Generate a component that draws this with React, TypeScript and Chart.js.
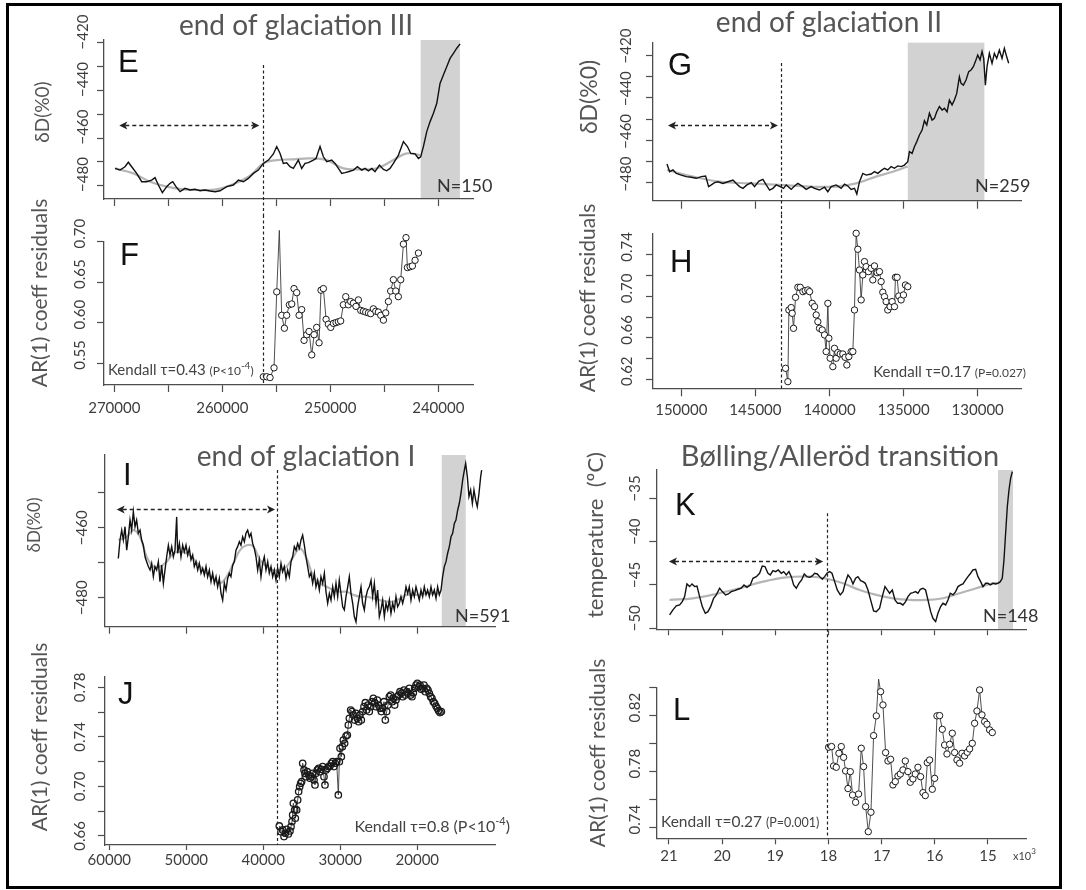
import React, { useEffect, useRef } from 'react';
import { Chart, registerables } from 'chart.js';

Chart.register(...registerables);

// ===================== DATA =====================
// Panel E — end of glaciation III, deltaD record (age in years BP)
const eAge = [269930, 269470, 269010, 268700, 268390, 267930, 267460, 267000, 266540, 266230, 265920, 265550, 265150, 264840, 264590, 264290, 263910, 263450, 262990, 262530, 262060, 261600, 261140, 260670, 260210, 259590, 258980, 258510, 258050, 257590, 257120, 256660, 256200, 255730, 255270, 254960, 254650, 254350, 254040, 253730, 253420, 252960, 252650, 252340, 252030, 251570, 251320, 250950, 250640, 250330, 249870, 249560, 249250, 248940, 248630, 248330, 247860, 247490, 247090, 246780, 246470, 246160, 245860, 245450, 245080, 244780, 244470, 244160, 243690, 243230, 242860, 242550, 242150, 241840, 241630, 241380, 241070, 240760, 240450, 240140, 239840, 239530, 239220, 238910, 238600, 238290, 237980];
const eDeltaD = [-472.8, -473.5, -472.1, -470.2, -472.1, -474.9, -478.4, -478.4, -477.7, -476.7, -479.8, -483.0, -480.5, -479.1, -478.4, -480.5, -482.6, -481.2, -481.9, -481.6, -482.2, -481.9, -482.3, -482.6, -482.2, -480.5, -479.8, -477.7, -478.4, -477.0, -474.9, -473.5, -470.7, -469.3, -466.7, -463.6, -466.5, -470.7, -470.4, -472.1, -472.8, -469.3, -472.8, -470.7, -470.4, -469.3, -468.6, -463.6, -467.9, -470.0, -469.3, -470.7, -472.8, -474.9, -474.6, -474.2, -473.5, -472.1, -473.5, -472.8, -473.8, -472.8, -474.2, -471.4, -473.2, -473.8, -472.8, -470.7, -467.2, -461.5, -463.6, -466.5, -466.7, -468.6, -467.9, -463.6, -457.3, -453.1, -449.6, -445.4, -437.0, -433.5, -430.0, -426.5, -424.4, -422.2, -420.4];
const eSmoothAge = [269930, 268240, 266690, 265150, 263610, 262060, 260520, 258980, 257430, 256200, 254960, 253420, 251880, 250330, 248790, 247240, 245700, 244160, 242920, 241690];
const eSmooth = [-472.8, -474.9, -478.4, -480.5, -481.6, -481.9, -481.6, -479.4, -475.9, -470.7, -469.3, -469.0, -468.6, -469.3, -472.8, -473.2, -472.8, -469.3, -466.5, -467.2];

// Panel F — AR(1) coefficient of residuals
const fAge = [256200, 255890, 255580, 255210, 254960, 254720, 254500, 254250, 254040, 253790, 253570, 253360, 253110, 252890, 252650, 252430, 252180, 251970, 251720, 251500, 251260, 251040, 250860, 250640, 250390, 250180, 249960, 249710, 249470, 249250, 249040, 248790, 248570, 248330, 248110, 247860, 247620, 247400, 247180, 246940, 246720, 246470, 246260, 246010, 245790, 245550, 245330, 245080, 244870, 244620, 244410, 244160, 243940, 243700, 243480, 243230, 242990, 242860, 242610, 242400, 242150, 241840];
const fAR = [0.533, 0.533, 0.532, 0.544, 0.638, 0.714, 0.609, 0.593, 0.609, 0.622, 0.623, 0.642, 0.637, 0.609, 0.616, 0.578, 0.585, 0.589, 0.560, 0.585, 0.594, 0.575, 0.640, 0.642, 0.604, 0.598, 0.594, 0.599, 0.600, 0.601, 0.602, 0.622, 0.632, 0.622, 0.626, 0.624, 0.620, 0.628, 0.615, 0.614, 0.613, 0.612, 0.611, 0.617, 0.614, 0.613, 0.609, 0.603, 0.612, 0.626, 0.639, 0.653, 0.639, 0.632, 0.653, 0.697, 0.705, 0.668, 0.669, 0.670, 0.677, 0.686];

// Panel G — end of glaciation II
const gAge = [150964, 150784, 150560, 150335, 149998, 149661, 149324, 148987, 148650, 148358, 148155, 147976, 147751, 147526, 147189, 146852, 146515, 146290, 146066, 145841, 145571, 145279, 145055, 144763, 144493, 144268, 144043, 143819, 143594, 143324, 143099, 142920, 142583, 142358, 142134, 141796, 141572, 141235, 141010, 140673, 140336, 140111, 139887, 139549, 139212, 138988, 138763, 138538, 138314, 138156, 137977, 137752, 137527, 137190, 136966, 136741, 136516, 136291, 136067, 135842, 135617, 135392, 135168, 134943, 134718, 134606, 134426, 134269, 134111, 133932, 133752, 133595, 133438, 133258, 133078, 132921, 132764, 132584, 132404, 132247, 132067, 131910, 131731, 131573, 131416, 131236, 131124, 130967, 130787, 130607, 130450, 130293, 130158, 130000, 129842, 129708, 129595, 129483, 129371, 129213, 129034, 128876, 128719, 128539, 128359, 128202, 128045, 127910];
const gDeltaD = [-471.1, -474.7, -473.9, -475.5, -476.3, -477.0, -477.3, -477.8, -477.0, -476.7, -481.7, -480.9, -479.8, -479.4, -480.2, -479.4, -478.6, -480.2, -481.7, -482.5, -480.9, -479.8, -481.7, -479.1, -478.3, -480.9, -483.3, -482.5, -480.9, -481.7, -482.5, -480.9, -483.0, -481.4, -480.2, -481.7, -483.0, -481.7, -482.5, -483.3, -482.0, -484.1, -481.7, -480.9, -482.5, -480.5, -481.4, -483.0, -482.5, -485.2, -479.4, -475.5, -476.3, -475.8, -474.7, -475.5, -474.2, -473.1, -473.9, -472.3, -473.1, -472.0, -472.3, -471.6, -470.0, -465.3, -466.1, -463.0, -460.6, -457.5, -455.2, -450.8, -452.8, -447.3, -450.5, -449.7, -446.6, -444.2, -445.8, -445.0, -446.6, -441.1, -443.4, -441.1, -438.0, -430.2, -433.3, -434.1, -431.7, -427.8, -427.0, -425.5, -423.1, -420.0, -422.3, -418.4, -421.6, -434.1, -425.5, -419.2, -423.9, -419.2, -421.6, -417.7, -421.6, -416.9, -420.8, -423.9];
const gSmoothAge = [150964, 149212, 147414, 145391, 143369, 141347, 139549, 138201, 136853, 135729, 134718];
const gSmooth = [-473.9, -477.0, -479.4, -480.2, -480.9, -481.7, -481.7, -480.2, -477.0, -474.7, -472.3];

// Panel H — AR(1) coefficient of residuals
const hAge = [142965, 142808, 142740, 142583, 142516, 142426, 142291, 142134, 141976, 141796, 141639, 141459, 141347, 141167, 141010, 140897, 140785, 140673, 140493, 140336, 140224, 140111, 140044, 139954, 139774, 139662, 139549, 139437, 139280, 139100, 138943, 138830, 138695, 138538, 138426, 138314, 138201, 138089, 137977, 137864, 137752, 137640, 137527, 137370, 137190, 137078, 136966, 136786, 136629, 136516, 136403, 136291, 136179, 136067, 135909, 135774, 135617, 135550, 135437, 135325, 135168, 135010, 134875, 134718];
const hAR = [0.6306, 0.6177, 0.6869, 0.6892, 0.6837, 0.6692, 0.6991, 0.7088, 0.7088, 0.7046, 0.7056, 0.7062, 0.7046, 0.6933, 0.6901, 0.6821, 0.6756, 0.6692, 0.6676, 0.6628, 0.6467, 0.6933, 0.6596, 0.6403, 0.6322, 0.6499, 0.6403, 0.6457, 0.6444, 0.6444, 0.6412, 0.6338, 0.6419, 0.6467, 0.6467, 0.6869, 0.7609, 0.7455, 0.7255, 0.6966, 0.7207, 0.7336, 0.7287, 0.7239, 0.7271, 0.7159, 0.7294, 0.7229, 0.7239, 0.7143, 0.7040, 0.6998, 0.6950, 0.6869, 0.6901, 0.6950, 0.6901, 0.7184, 0.7184, 0.7004, 0.6966, 0.7014, 0.7110, 0.7094];

// Panel I — end of glaciation I
const iAge = [58830, 58610, 58390, 58180, 57960, 57740, 57530, 57310, 57100, 56880, 56660, 56450, 56230, 56010, 55800, 55580, 55360, 55150, 54930, 54710, 54500, 54280, 54070, 53850, 53630, 53420, 53200, 52980, 52770, 52550, 52330, 52120, 51900, 51680, 51470, 51250, 51120, 50900, 50690, 50470, 50260, 50040, 49820, 49610, 49390, 49170, 48960, 48740, 48520, 48310, 48090, 47870, 47660, 47440, 47230, 47010, 46790, 46580, 46360, 46140, 45930, 45710, 45490, 45280, 45060, 44840, 44630, 44410, 44200, 43980, 43760, 43550, 43330, 43110, 42900, 42680, 42460, 42250, 42030, 41810, 41600, 41380, 41170, 40950, 40730, 40520, 40300, 40080, 39870, 39650, 39430, 39220, 39000, 38780, 38570, 38350, 38140, 37920, 37700, 37490, 37270, 37050, 36840, 36620, 36400, 36190, 35970, 35750, 35540, 35320, 35100, 34890, 34670, 34460, 34240, 34020, 33810, 33590, 33370, 33160, 32940, 32720, 32510, 32290, 32070, 31860, 31640, 31420, 31210, 30990, 30780, 30560, 30340, 30130, 29910, 29690, 29480, 29260, 29040, 28830, 28610, 28390, 28180, 27960, 27750, 27530, 27310, 27100, 26880, 26660, 26450, 26230, 26010, 25800, 25580, 25360, 25150, 24930, 24720, 24500, 24280, 24070, 23850, 23630, 23420, 23200, 22980, 22770, 22550, 22330, 22120, 21900, 21690, 21470, 21250, 21040, 20820, 20600, 20390, 20170, 19950, 19740, 19520, 19300, 19090, 18870, 18660, 18440, 18220, 18010, 17790, 17570, 17360, 17140, 16920, 16710, 16490, 16270, 16060, 15840, 15620, 15410, 15190, 14980, 14760, 14540, 14330, 14110, 13890, 13720, 13500, 13290, 13070, 12850, 12640, 12420, 12210, 11990, 11770, 11640];
const iDeltaD = [-468.8, -463.5, -460.7, -463.5, -459.7, -466.4, -462.6, -457.8, -460.7, -455.4, -459.7, -457.8, -461.6, -460.7, -463.5, -465.0, -468.3, -469.7, -471.1, -472.1, -470.2, -474.0, -471.1, -472.1, -469.7, -475.4, -470.7, -475.9, -472.1, -468.3, -465.0, -467.8, -465.4, -468.3, -466.4, -456.9, -467.3, -464.5, -468.3, -465.0, -466.9, -465.0, -467.8, -465.9, -469.2, -467.8, -471.1, -469.7, -472.1, -470.2, -473.0, -471.6, -473.5, -471.1, -474.0, -472.1, -475.4, -473.0, -475.9, -474.0, -476.9, -474.5, -478.8, -480.7, -475.9, -477.8, -474.5, -473.0, -474.0, -470.7, -469.7, -466.4, -465.4, -464.0, -465.0, -462.6, -464.0, -461.6, -460.7, -462.6, -461.6, -464.5, -465.9, -468.3, -472.1, -469.2, -474.0, -470.2, -468.3, -472.1, -469.7, -473.0, -471.1, -474.0, -472.1, -475.0, -471.6, -474.0, -470.2, -472.6, -471.1, -474.5, -472.1, -474.0, -469.7, -468.3, -465.4, -466.4, -464.5, -465.9, -463.5, -462.1, -465.0, -468.3, -471.1, -474.0, -473.0, -475.9, -473.0, -476.9, -475.0, -477.8, -474.0, -475.9, -473.0, -478.3, -481.6, -478.8, -480.7, -476.9, -479.7, -475.9, -479.7, -475.0, -478.8, -482.6, -483.5, -479.7, -476.9, -474.0, -478.8, -481.6, -485.4, -486.9, -482.6, -479.7, -476.9, -481.6, -483.5, -479.7, -477.8, -476.9, -475.0, -479.7, -475.9, -481.6, -477.8, -485.4, -483.5, -480.7, -485.4, -481.6, -483.5, -480.7, -484.5, -481.6, -483.5, -479.7, -482.6, -481.6, -479.7, -481.6, -479.7, -476.9, -478.8, -476.9, -480.7, -477.8, -479.7, -476.9, -478.8, -480.7, -477.8, -479.7, -476.9, -479.2, -477.8, -479.7, -476.9, -479.2, -477.8, -480.2, -476.9, -479.2, -477.8, -474.0, -471.1, -469.7, -467.3, -465.4, -462.6, -461.6, -458.8, -457.8, -455.0, -453.0, -450.2, -446.4, -443.5, -441.6, -445.4, -451.1, -449.2, -453.0, -449.2, -452.1, -454.0, -450.2, -445.4, -443.5];
const iSmoothAge = [58827, 57745, 56879, 56013, 55147, 54282, 53416, 52550, 51684, 50818, 49953, 49087, 48221, 47355, 46489, 45624, 44758, 43892, 43026, 42160, 41295, 40429, 39563, 38697, 37831, 36966, 36100, 35234, 34368, 33502, 32637, 31771, 30905, 30039, 29173, 28308, 27442, 26576, 25710, 24844, 23978, 23113, 22247, 21381, 20515, 19649, 18783, 17918, 17052];
const iSmooth = [-463.5, -462.6, -460.7, -462.6, -468.3, -471.1, -471.1, -469.7, -467.3, -466.9, -467.3, -468.8, -471.1, -473.0, -474.5, -475.9, -474.0, -470.2, -466.4, -465.0, -465.4, -469.2, -471.1, -472.1, -472.1, -471.1, -468.3, -465.9, -468.8, -474.0, -475.9, -476.9, -477.8, -478.3, -478.3, -479.2, -479.7, -479.7, -480.2, -480.7, -481.1, -481.1, -480.2, -479.2, -479.2, -479.2, -478.8, -478.8, -478.8];

// Panel J — AR(1) coefficient of residuals
const jAge = [37918, 37702, 37485, 37312, 37139, 36966, 36749, 36533, 36403, 36273, 36187, 36100, 35927, 35840, 35667, 35537, 35407, 35277, 35147, 35017, 34888, 34714, 34585, 34455, 34282, 34109, 33935, 33762, 33589, 33416, 33286, 33157, 32983, 32810, 32637, 32464, 32291, 32118, 31988, 31858, 31685, 31512, 31338, 31165, 30992, 30819, 30646, 30472, 30256, 30126, 30040, 29867, 29737, 29607, 29434, 29261, 29088, 28958, 28828, 28655, 28482, 28308, 28135, 27962, 27789, 27616, 27442, 27269, 27096, 26923, 26750, 26576, 26403, 26230, 26057, 25884, 25710, 25537, 25364, 25191, 25018, 24844, 24671, 24498, 24325, 24152, 23978, 23805, 23632, 23459, 23286, 23113, 22939, 22766, 22593, 22420, 22247, 22073, 21900, 21727, 21554, 21381, 21208, 21034, 20861, 20688, 20515, 20342, 20169, 19995, 19822, 19649, 19476, 19303, 19130, 18956, 18783, 18610, 18437, 18264, 18091, 17918, 17744, 17571, 17398, 17225, 17052, 16879];
const jAR = [0.6681, 0.6635, 0.6649, 0.6595, 0.6622, 0.6654, 0.6616, 0.6640, 0.6675, 0.6716, 0.6770, 0.6864, 0.6810, 0.6743, 0.6810, 0.6891, 0.6958, 0.6998, 0.7025, 0.7039, 0.7187, 0.7133, 0.7106, 0.7079, 0.7119, 0.7092, 0.7066, 0.7079, 0.7106, 0.7052, 0.7012, 0.7106, 0.7133, 0.7146, 0.7119, 0.7138, 0.7160, 0.7079, 0.7012, 0.7133, 0.7146, 0.7160, 0.7165, 0.7187, 0.7200, 0.7160, 0.7187, 0.7200, 0.6931, 0.7200, 0.7308, 0.7240, 0.7321, 0.7375, 0.7348, 0.7407, 0.7415, 0.7496, 0.7550, 0.7617, 0.7604, 0.7577, 0.7536, 0.7590, 0.7550, 0.7523, 0.7577, 0.7536, 0.7604, 0.7644, 0.7676, 0.7617, 0.7657, 0.7604, 0.7644, 0.7684, 0.7711, 0.7676, 0.7644, 0.7698, 0.7657, 0.7631, 0.7604, 0.7631, 0.7684, 0.7536, 0.7604, 0.7657, 0.7725, 0.7738, 0.7684, 0.7711, 0.7657, 0.7698, 0.7725, 0.7738, 0.7765, 0.7752, 0.7725, 0.7778, 0.7738, 0.7765, 0.7752, 0.7792, 0.7738, 0.7725, 0.7757, 0.7792, 0.7819, 0.7832, 0.7805, 0.7819, 0.7784, 0.7792, 0.7819, 0.7765, 0.7792, 0.7778, 0.7752, 0.7725, 0.7711, 0.7684, 0.7671, 0.7649, 0.7631, 0.7612, 0.7596, 0.7604];

// Panel K — Bølling/Allerød transition, temperature (kyr BP)
const kAge = [20.988, 20.925, 20.862, 20.799, 20.749, 20.705, 20.662, 20.611, 20.567, 20.517, 20.473, 20.423, 20.373, 20.317, 20.267, 20.216, 20.160, 20.110, 20.047, 19.997, 19.934, 19.884, 19.828, 19.765, 19.702, 19.640, 19.589, 19.533, 19.470, 19.420, 19.357, 19.295, 19.245, 19.194, 19.138, 19.094, 19.044, 18.994, 18.944, 18.887, 18.843, 18.793, 18.743, 18.699, 18.655, 18.605, 18.555, 18.505, 18.455, 18.404, 18.354, 18.304, 18.260, 18.210, 18.166, 18.116, 18.072, 18.028, 17.978, 17.934, 17.884, 17.834, 17.778, 17.727, 17.677, 17.633, 17.583, 17.539, 17.489, 17.445, 17.395, 17.351, 17.307, 17.257, 17.207, 17.151, 17.100, 17.038, 16.988, 16.937, 16.894, 16.850, 16.799, 16.749, 16.699, 16.649, 16.599, 16.549, 16.505, 16.455, 16.411, 16.361, 16.317, 16.273, 16.223, 16.173, 16.129, 16.078, 16.035, 15.984, 15.941, 15.890, 15.846, 15.796, 15.752, 15.709, 15.658, 15.608, 15.564, 15.514, 15.470, 15.420, 15.376, 15.326, 15.282, 15.232, 15.188, 15.138, 15.094, 15.044, 15.000, 14.956, 14.906, 14.856, 14.812, 14.768, 14.731, 14.699, 14.668, 14.636, 14.605, 14.574, 14.542];
const kTemp = [-48.46, -47.88, -47.42, -47.31, -46.92, -46.35, -44.88, -45.19, -44.88, -45.19, -45.12, -46.35, -47.50, -48.27, -48.08, -47.50, -46.54, -46.15, -45.38, -45.77, -46.15, -46.04, -45.77, -45.65, -45.50, -45.38, -45.00, -45.27, -45.00, -44.23, -44.04, -43.65, -42.81, -42.88, -43.65, -43.85, -43.35, -43.46, -43.27, -43.65, -43.46, -43.85, -43.46, -44.04, -45.00, -45.38, -44.81, -44.42, -43.73, -44.04, -44.12, -43.96, -43.65, -43.73, -44.04, -44.35, -44.04, -43.65, -43.46, -43.65, -44.62, -45.58, -46.15, -45.77, -44.62, -43.85, -44.23, -44.88, -44.23, -44.04, -44.50, -44.62, -44.81, -45.58, -46.73, -48.00, -48.08, -47.69, -46.35, -45.19, -45.58, -45.96, -45.58, -46.73, -47.12, -47.12, -47.31, -46.92, -46.35, -45.96, -45.88, -45.77, -45.96, -45.50, -45.38, -45.58, -46.73, -48.08, -48.85, -49.23, -48.27, -47.50, -47.12, -47.31, -46.73, -45.96, -46.15, -45.77, -45.19, -45.00, -44.88, -44.42, -44.04, -43.65, -43.27, -43.19, -44.04, -44.62, -45.19, -44.81, -44.81, -45.00, -44.81, -44.88, -44.81, -44.62, -44.23, -42.12, -39.04, -35.96, -34.04, -32.69, -31.92];
const kSmoothAge = [20.988, 20.549, 20.110, 19.671, 19.232, 18.793, 18.354, 18.041, 17.727, 17.414, 17.100, 16.787, 16.473, 16.160, 15.846, 15.533, 15.219, 14.906, 14.781];
const kSmooth = [-46.73, -46.54, -46.04, -45.38, -44.62, -44.12, -44.04, -44.27, -44.81, -45.58, -46.15, -46.54, -46.73, -46.73, -46.54, -45.96, -45.38, -44.81, -44.73];

// Panel L — AR(1) coefficient of residuals
const lAge = [17.997, 17.941, 17.903, 17.853, 17.803, 17.759, 17.715, 17.677, 17.633, 17.589, 17.546, 17.489, 17.433, 17.383, 17.339, 17.301, 17.251, 17.201, 17.151, 17.100, 17.057, 17.019, 16.975, 16.925, 16.881, 16.831, 16.787, 16.743, 16.693, 16.649, 16.599, 16.555, 16.505, 16.461, 16.411, 16.367, 16.317, 16.267, 16.223, 16.179, 16.141, 16.097, 16.047, 16.003, 15.959, 15.909, 15.859, 15.815, 15.771, 15.721, 15.671, 15.627, 15.583, 15.533, 15.489, 15.439, 15.389, 15.345, 15.295, 15.251, 15.207, 15.157, 15.113, 15.063, 15.019, 14.969, 14.919];
const lAR = [0.7974, 0.7979, 0.7840, 0.7831, 0.7931, 0.7979, 0.7902, 0.7805, 0.7679, 0.7800, 0.7633, 0.7581, 0.7640, 0.7967, 0.7836, 0.7550, 0.7371, 0.7510, 0.8057, 0.8198, 0.8460, 0.8371, 0.8276, 0.7936, 0.7876, 0.7888, 0.7705, 0.7729, 0.7769, 0.7783, 0.7812, 0.7876, 0.7800, 0.7724, 0.7748, 0.7783, 0.7831, 0.7764, 0.7650, 0.7629, 0.7864, 0.7883, 0.7674, 0.7752, 0.8198, 0.8200, 0.8102, 0.7990, 0.7926, 0.7995, 0.8074, 0.7936, 0.7883, 0.7860, 0.7931, 0.7912, 0.7938, 0.7962, 0.8002, 0.8145, 0.8233, 0.8383, 0.8205, 0.8157, 0.8138, 0.8098, 0.8079];

// Tick values and labelled ticks
const efTicks = [270000, 265000, 260000, 255000, 250000, 245000, 240000];
const efTickLabels = [270000, 260000, 250000, 240000];
const ghTicks = [150000, 145000, 140000, 135000, 130000];
const ijTicks = [60000, 50000, 40000, 30000, 20000];
const klTicks = [21, 20, 19, 18, 17, 16, 15];
const eYTicks = [-420, -430, -440, -450, -460, -470, -480];
const eYLabels = [-420, -440, -460, -480];
const fYTicks = [0.70, 0.65, 0.60, 0.55];
const gYTicks = [-420, -430, -440, -450, -460, -470, -480];
const gYLabels = [-420, -440, -460, -480];
const hYTicks = [0.74, 0.72, 0.70, 0.68, 0.66, 0.64, 0.62];
const hYLabels = [0.74, 0.70, 0.66, 0.62];
const iYTicks = [-450, -460, -470, -480];
const iYLabels = [-460, -480];
const jYTicks = [0.78, 0.76, 0.74, 0.72, 0.70, 0.68, 0.66];
const jYLabels = [0.78, 0.74, 0.70, 0.66];
const kYTicks = [-35, -40, -45, -50];
const lYTicks = [0.84, 0.82, 0.80, 0.78, 0.76, 0.74];
const lYLabels = [0.82, 0.78, 0.74];

// Transition markers (age of dashed line, shaded transition interval)
const efTransition = 256200;
const ghTransition = 143257;
const ijTransition = 38260;
const klTransition = 18.028;
const eShade = [238000, 241630];
const gShade = [129550, 134718];
const iShade = [13714, 16831];
const kShade = [14.53, 14.812];

// ===================== STYLE / LAYOUT =====================
const FONT = 'Lato, "DejaVu Sans", sans-serif';
const LETTER_FONT = '"Liberation Sans", Arial, sans-serif';
const AXIS = '#4d4d4d';
const LABEL = '#3d3d3d';
const GREY_TXT = '#555555';
const TICK_SIZE = 15;

const pts = (xs: number[], ys: number[]) => xs.map((x, i) => ({ x, y: ys[i] }));
const neg = (v: number) => (v < 0 ? '\u2212' + Math.abs(v) : String(v));
const dec2 = (v: number) => v.toFixed(2);

const lineSet = (xs: number[], ys: number[]) => ({
  data: pts(xs, ys), borderColor: '#111', borderWidth: 1.4, pointRadius: 0, tension: 0,
});
const smoothSet = (xs: number[], ys: number[]) => ({
  data: pts(xs, ys), borderColor: '#b5b5b5', borderWidth: 2.2, pointRadius: 0, tension: 0.4,
});
const arSet = (xs: number[], ys: number[], fill: string, bw: number) => ({
  data: pts(xs, ys), borderColor: '#3a3a3a', borderWidth: 0.9, pointRadius: 3.2,
  pointBorderWidth: bw, pointBorderColor: '#1a1a1a', pointBackgroundColor: fill, clip: false,
});

type Seg = { t: string; size: number; dy?: number };

const PANELS: any[] = [
  {
    id: 'E', box: [0, 0, 540, 215], area: [104, 40, 473, 199],
    xRange: [236787, 270954], yRange: [-485.68, -418.74],
    xTicks: efTicks, xLabels: null, xTickLen: 7, xPad: 7, xFmt: String,
    yTicks: eYTicks, yLabels: eYLabels, yFmt: neg, yDx: 21, yDy: -11,
    series: [lineSet(eAge, eDeltaD), smoothSet(eSmoothAge, eSmooth)],
    shade: eShade, vline: { x: efTransition, from: -429.3 },
    arrow: { x1: 269537, x2: 256573, y: -454.5 },
    texts: [
      { t: 'end of glaciation III', x: 296, y: 35, size: 28, color: GREY_TXT, align: 'center' },
      { t: 'E', x: 118, y: 72, size: 31, family: LETTER_FONT, color: '#111' },
      { t: 'N=150', x: 437, y: 192, size: 18, color: '#333' },
      { t: '\u03b4D(%0)', x: 43, y: 112, size: 19, color: GREY_TXT, rot: true },
    ],
  },
  {
    id: 'F', box: [0, 190, 540, 240], area: [104, 241.7, 473, 385], joinY: 215,
    xRange: [236787, 270954], yRange: [0.5228, 0.70],
    xTicks: efTicks, xLabels: efTickLabels, xTickLen: 7, xPad: 7, xFmt: String,
    yTicks: fYTicks, yLabels: fYTicks, yFmt: dec2, yDx: 24, yDy: -8,
    series: [arSet(fAge, fAR, '#fff', 1)],
    vline: { x: efTransition },
    texts: [
      { t: 'F', x: 120, y: 265, size: 31, family: LETTER_FONT, color: '#111' },
      { t: 'AR(1) coeff residuals', x: 40, y: 293, size: 21, color: GREY_TXT, rot: true },
    ],
    rich: { x: 108, y: 375, align: 'left', segs: [{ t: 'Kendall \u03c4=0.43 ', size: 15 }, { t: '(P<10', size: 12 }, { t: '-4', size: 10, dy: -6 }, { t: ')', size: 12 }] },
  },
  {
    id: 'G', box: [543, 0, 543, 215], area: [653, 42.7, 1021, 200.7],
    xRange: [127079, 151908], yRange: [-488.3, -414.23],
    xTicks: ghTicks, xLabels: null, xTickLen: 8, xPad: 5, xFmt: String,
    yTicks: gYTicks, yLabels: gYLabels, yFmt: neg, yDx: 27, yDy: -9,
    series: [lineSet(gAge, gDeltaD), smoothSet(gSmoothAge, gSmooth)],
    shade: gShade, vline: { x: ghTransition, from: -423.75 },
    arrow: { x1: 150897, x2: 143482, y: -452.8 },
    texts: [
      { t: 'end of glaciation II', x: 829, y: 32, size: 28, color: GREY_TXT, align: 'center' },
      { t: 'G', x: 668, y: 75, size: 31, family: LETTER_FONT, color: '#111' },
      { t: 'N=259', x: 975, y: 192, size: 18, color: '#333' },
      { t: '\u03b4D(%0)', x: 590, y: 97, size: 23, color: GREY_TXT, rot: true },
    ],
  },
  {
    id: 'H', box: [543, 190, 543, 240], area: [653, 233.3, 1021, 388.3], joinY: 215,
    xRange: [127079, 151908], yRange: [0.6113, 0.7609],
    xTicks: ghTicks, xLabels: ghTicks, xTickLen: 8, xPad: 5, xFmt: String,
    yTicks: hYTicks, yLabels: hYLabels, yFmt: dec2, yDx: 26, yDy: -8,
    series: [arSet(hAge, hAR, '#fff', 1)],
    vline: { x: ghTransition },
    texts: [
      { t: 'H', x: 670, y: 272, size: 31, family: LETTER_FONT, color: '#111' },
      { t: 'AR(1) coeff residuals', x: 588, y: 298, size: 21, color: GREY_TXT, rot: true },
    ],
    rich: { x: 1026, y: 377, align: 'right', segs: [{ t: 'Kendall \u03c4=0.17 ', size: 15 }, { t: '(P=0.027)', size: 12 }] },
  },
  {
    id: 'I', box: [0, 430, 540, 210], area: [105, 455, 495, 626.7],
    xRange: [9909, 60559], yRange: [-488.3, -439.2],
    xTicks: ijTicks, xLabels: null, xTickLen: 7, xPad: 5, xFmt: String,
    yTicks: iYTicks, yLabels: iYLabels, yFmt: neg, yDx: 23, yDy: 0,
    series: [lineSet(iAge, iDeltaD), smoothSet(iSmoothAge, iSmooth)],
    shade: iShade, vline: { x: ijTransition, from: -443.5 },
    arrow: { x1: 59039, x2: 38480, y: -454.5 },
    texts: [
      { t: 'end of glaciation I', x: 306, y: 466, size: 28, color: GREY_TXT, align: 'center' },
      { t: 'I', x: 123, y: 485, size: 31, family: LETTER_FONT, color: '#111' },
      { t: 'N=591', x: 455, y: 622, size: 18, color: '#333' },
      { t: '\u03b4D(%0)', x: 35, y: 525, size: 17, color: GREY_TXT, rot: true },
    ],
  },
  {
    id: 'J', box: [0, 625, 540, 265], area: [105, 676.7, 495, 845], joinY: 640,
    xRange: [9909, 60559], yRange: [0.6527, 0.7886],
    xTicks: ijTicks, xLabels: ijTicks, xTickLen: 5, xPad: 1, xFmt: String,
    yTicks: jYTicks, yLabels: jYLabels, yFmt: dec2, yDx: 25, yDy: 0,
    series: [arSet(jAge, jAR, 'rgba(255,255,255,0)', 1.3)],
    vline: { x: ijTransition },
    texts: [
      { t: 'J', x: 118, y: 704, size: 31, family: LETTER_FONT, color: '#111' },
      { t: 'AR(1) coeff residuals', x: 40, y: 737, size: 21, color: GREY_TXT, rot: true },
    ],
    rich: { x: 510, y: 832, align: 'right', segs: [{ t: 'Kendall \u03c4=0.8 ', size: 16 }, { t: '(P<10', size: 16 }, { t: '-4', size: 11, dy: -7 }, { t: ')', size: 16 }] },
  },
  {
    id: 'K', box: [543, 430, 543, 210], area: [656.3, 470, 1026.3, 629.3],
    xRange: [14.279, 21.238], yRange: [-50.12, -31.73],
    xTicks: klTicks, xLabels: null, xTickLen: 6, xPad: 3, xFmt: String,
    yTicks: kYTicks, yLabels: kYTicks, yFmt: neg, yDx: 21, yDy: -10,
    series: [lineSet(kAge, kTemp), smoothSet(kSmoothAge, kSmooth)],
    shade: kShade, vline: { x: klTransition, from: -36.73 },
    arrow: { x1: 21.0, x2: 18.1, y: -42.2 },
    texts: [
      { t: 'B\u00f8lling/Aller\u00f6d transition', x: 840, y: 466, size: 29, color: GREY_TXT, align: 'center' },
      { t: 'K', x: 675, y: 515, size: 31, family: LETTER_FONT, color: '#111' },
      { t: 'N=148', x: 983, y: 622, size: 18, color: '#333' },
      { t: 'temperature  (\u00baC)', x: 596, y: 535, size: 22, color: GREY_TXT, rot: true },
    ],
  },
  {
    id: 'L', box: [543, 625, 543, 265], area: [656.3, 687.3, 1026.3, 838.3], joinY: 640,
    xRange: [14.279, 21.238], yRange: [0.7324, 0.8402],
    xTicks: klTicks, xLabels: klTicks, xTickLen: 6, xPad: 3, xFmt: String,
    yTicks: lYTicks, yLabels: lYLabels, yFmt: dec2, yDx: 21, yDy: -8,
    series: [arSet(lAge, lAR, '#fff', 1)],
    vline: { x: klTransition },
    texts: [
      { t: 'L', x: 673, y: 720, size: 31, family: LETTER_FONT, color: '#111' },
      { t: 'AR(1) coeff residuals', x: 598, y: 753, size: 21, color: GREY_TXT, rot: true },
    ],
    rich: { x: 661, y: 827, align: 'left', segs: [{ t: 'Kendall \u03c4=0.27 ', size: 15.5 }, { t: '(P=0.001)', size: 12.5 }] },
    extra: { x: 1013, y: 860, segs: [{ t: 'x10', size: 11 }, { t: '3', size: 8, dy: -6 }] },
  },
];

function drawSegs(ctx: any, segs: Seg[], x: number, y: number, align: string, color: string) {
  ctx.fillStyle = color;
  ctx.textBaseline = 'alphabetic';
  ctx.textAlign = 'left';
  let total = 0;
  for (const s of segs) { ctx.font = `${s.size}px ${FONT}`; total += ctx.measureText(s.t).width; }
  let cx = align === 'right' ? x - total : x;
  for (const s of segs) {
    ctx.font = `${s.size}px ${FONT}`;
    ctx.fillText(s.t, cx, y + (s.dy || 0));
    cx += ctx.measureText(s.t).width;
  }
}

function decorPlugin(p: any) {
  return {
    id: 'decor' + p.id,
    beforeDraw(chart: any) {
      if (!p.shade) return;
      const { ctx, chartArea: a, scales } = chart;
      const x1 = scales.x.getPixelForValue(p.shade[0]);
      const x2 = scales.x.getPixelForValue(p.shade[1]);
      ctx.save();
      ctx.fillStyle = '#d2d2d2';
      ctx.fillRect(Math.min(x1, x2), a.top, Math.abs(x2 - x1), a.bottom - a.top);
      ctx.restore();
    },
    afterDraw(chart: any) {
      const { ctx, chartArea: a, scales } = chart;
      const ox = p.box[0];
      const oy = p.box[1];
      ctx.save();
      // rotated y tick labels
      ctx.fillStyle = LABEL;
      ctx.font = `${TICK_SIZE}px ${FONT}`;
      ctx.textAlign = 'center';
      ctx.textBaseline = 'middle';
      for (const v of p.yLabels) {
        const y = scales.y.getPixelForValue(v) + p.yDy;
        ctx.save();
        ctx.translate(a.left - p.yDx, y);
        ctx.rotate(-Math.PI / 2);
        ctx.fillText(p.yFmt(v), 0, 0);
        ctx.restore();
      }
      // dashed transition line
      if (p.vline) {
        const x = Math.round(scales.x.getPixelForValue(p.vline.x)) + 0.5;
        const hasFrom = p.vline.from !== undefined;
        const y0 = hasFrom ? scales.y.getPixelForValue(p.vline.from) : (p.joinY - oy);
        const y1 = hasFrom ? chart.height : a.bottom;
        ctx.strokeStyle = '#222';
        ctx.lineWidth = 1.2;
        ctx.setLineDash([3, 2.5]);
        ctx.beginPath();
        ctx.moveTo(x, y0);
        ctx.lineTo(x, y1);
        ctx.stroke();
        ctx.setLineDash([]);
      }
      // double-headed arrow
      if (p.arrow) {
        const xa = scales.x.getPixelForValue(p.arrow.x1);
        const xb = scales.x.getPixelForValue(p.arrow.x2);
        const l = Math.min(xa, xb);
        const r = Math.max(xa, xb);
        const y = Math.round(scales.y.getPixelForValue(p.arrow.y)) + 0.5;
        ctx.strokeStyle = '#222';
        ctx.fillStyle = '#222';
        ctx.lineWidth = 1.3;
        ctx.setLineDash([4, 3]);
        ctx.beginPath();
        ctx.moveTo(l + 6, y);
        ctx.lineTo(r - 6, y);
        ctx.stroke();
        ctx.setLineDash([]);
        ctx.beginPath();
        ctx.moveTo(l, y); ctx.lineTo(l + 8, y - 4); ctx.lineTo(l + 6, y); ctx.lineTo(l + 8, y + 4); ctx.closePath();
        ctx.fill();
        ctx.beginPath();
        ctx.moveTo(r, y); ctx.lineTo(r - 8, y - 4); ctx.lineTo(r - 6, y); ctx.lineTo(r - 8, y + 4); ctx.closePath();
        ctx.fill();
      }
      // texts
      for (const t of p.texts) {
        ctx.fillStyle = t.color || '#333';
        ctx.font = `${t.size}px ${t.family || FONT}`;
        if (t.rot) {
          ctx.save();
          ctx.translate(t.x - ox, t.y - oy);
          ctx.rotate(-Math.PI / 2);
          ctx.textAlign = 'center';
          ctx.textBaseline = 'middle';
          ctx.fillText(t.t, 0, 0);
          ctx.restore();
        } else {
          ctx.textAlign = t.align || 'left';
          ctx.textBaseline = 'alphabetic';
          ctx.fillText(t.t, t.x - ox, t.y - oy);
        }
      }
      if (p.rich) drawSegs(ctx, p.rich.segs, p.rich.x - ox, p.rich.y - oy, p.rich.align, '#444');
      if (p.extra) drawSegs(ctx, p.extra.segs, p.extra.x - ox, p.extra.y - oy, 'left', '#444');
      ctx.restore();
    },
  };
}

function buildConfig(p: any) {
  const [bl, bt, bw, bh] = p.box;
  const [al, at, ar, ab] = p.area;
  const labelSet = new Set(p.xLabels || []);
  return {
    type: 'line',
    data: { datasets: p.series },
    options: {
      responsive: false,
      animation: false,
      events: [],
      layout: { padding: { left: 0, top: at - bt, right: bl + bw - ar, bottom: 0 } },
      plugins: { legend: { display: false }, tooltip: { enabled: false } },
      scales: {
        x: {
          type: 'linear', reverse: true, min: p.xRange[0], max: p.xRange[1],
          grid: { display: true, drawOnChartArea: false, drawTicks: true, tickLength: p.xTickLen, tickColor: AXIS, tickWidth: 1.2 },
          border: { display: true, color: AXIS, width: 1.3 },
          ticks: {
            display: !!p.xLabels, autoSkip: false, maxRotation: 0, minRotation: 0, padding: p.xPad,
            color: LABEL, font: { family: FONT, size: TICK_SIZE },
            callback: (v: number) => (labelSet.has(v) ? p.xFmt(v) : ''),
          },
          afterBuildTicks: (s: any) => { s.ticks = p.xTicks.map((v: number) => ({ value: v })); },
          afterFit: (s: any) => { s.height = bt + bh - ab; },
        },
        y: {
          type: 'linear', min: p.yRange[0], max: p.yRange[1],
          grid: { display: true, drawOnChartArea: false, drawTicks: true, tickLength: 7, tickColor: AXIS, tickWidth: 1.2 },
          border: { display: true, color: AXIS, width: 1.3 },
          ticks: { display: false },
          afterBuildTicks: (s: any) => { s.ticks = p.yTicks.map((v: number) => ({ value: v })); },
          afterFit: (s: any) => { s.width = al - bl; },
        },
      },
    },
    plugins: [decorPlugin(p)],
  };
}

function Panel({ spec }: { spec: any }) {
  const ref = useRef<HTMLCanvasElement>(null);
  useEffect(() => {
    if (!ref.current) return;
    const chart = new Chart(ref.current, buildConfig(spec) as any);
    return () => chart.destroy();
  }, [spec]);
  const [l, t, w, h] = spec.box;
  return (
    <canvas
      ref={ref}
      width={w}
      height={h}
      style={{ position: 'absolute', left: l, top: t, width: w, height: h }}
    />
  );
}

export default function App() {
  return (
    <div style={{ position: 'absolute', left: 0, top: 0, width: 1086, height: 890, background: '#fff', overflow: 'hidden' }}>
      {PANELS.map((p) => (
        <Panel key={p.id} spec={p} />
      ))}
      <div
        style={{
          position: 'absolute', left: 6, top: 3, width: 1056, height: 886,
          border: '3px solid #000', boxSizing: 'border-box', pointerEvents: 'none',
        }}
      />
    </div>
  );
}
